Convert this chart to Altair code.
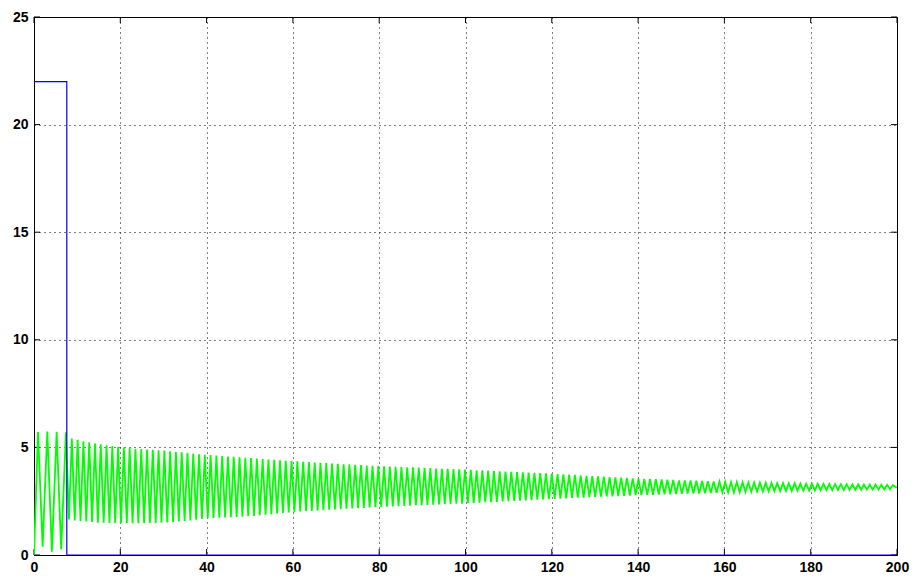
import altair as alt
import pandas as pd

# ---- data ----
x_ticks = [0, 20, 40, 60, 80, 100, 120, 140, 160, 180, 200]
y_ticks = [0, 5, 10, 15, 20, 25]

blue_t = [0.0, 7.6, 7.6, 200.0]
blue_v = [22.0, 22.0, 0.0, 0.0]

green_t = [
    0.0, 0.93, 2.0, 3.08, 4.15, 5.25, 6.3, 7.4,
    8.10, 8.77, 9.44, 10.11, 10.78, 11.45, 12.12, 12.79, 13.46, 14.13,
    14.80, 15.47, 16.14, 16.81, 17.48, 18.15, 18.82, 19.49, 20.16, 20.83,
    21.50, 22.17, 22.84, 23.51, 24.18, 24.85, 25.52, 26.19, 26.86, 27.53,
    28.20, 28.87, 29.54, 30.21, 30.88, 31.55, 32.22, 32.89, 33.56, 34.23,
    34.90, 35.57, 36.24, 36.91, 37.58, 38.25, 38.92, 39.59, 40.26, 40.93,
    41.60, 42.27, 42.94, 43.61, 44.28, 44.95, 45.62, 46.29, 46.96, 47.63,
    48.30, 48.97, 49.64, 50.31, 50.98, 51.65, 52.32, 52.99, 53.66, 54.33,
    55.00, 55.67, 56.34, 57.01, 57.68, 58.35, 59.02, 59.69, 60.36, 61.03,
    61.70, 62.37, 63.04, 63.71, 64.38, 65.05, 65.72, 66.39, 67.06, 67.73,
    68.40, 69.07, 69.74, 70.41, 71.08, 71.75, 72.42, 73.09, 73.76, 74.43,
    75.10, 75.77, 76.44, 77.11, 77.78, 78.45, 79.12, 79.79, 80.46, 81.13,
    81.80, 82.47, 83.14, 83.81, 84.48, 85.15, 85.82, 86.49, 87.16, 87.83,
    88.50, 89.17, 89.84, 90.51, 91.18, 91.85, 92.52, 93.19, 93.86, 94.53,
    95.20, 95.87, 96.54, 97.21, 97.88, 98.55, 99.22, 99.89, 100.56, 101.23,
    101.90, 102.57, 103.24, 103.91, 104.58, 105.25, 105.92, 106.59, 107.26, 107.93,
    108.60, 109.27, 109.94, 110.61, 111.28, 111.95, 112.62, 113.29, 113.96, 114.63,
    115.30, 115.97, 116.64, 117.31, 117.98, 118.65, 119.32, 119.99, 120.66, 121.33,
    122.00, 122.67, 123.34, 124.01, 124.68, 125.35, 126.02, 126.69, 127.36, 128.03,
    128.70, 129.37, 130.04, 130.71, 131.38, 132.05, 132.72, 133.39, 134.06, 134.73,
    135.40, 136.07, 136.74, 137.41, 138.08, 138.75, 139.42, 140.09, 140.76, 141.43,
    142.10, 142.77, 143.44, 144.11, 144.78, 145.45, 146.12, 146.79, 147.46, 148.13,
    148.80, 149.47, 150.14, 150.81, 151.48, 152.15, 152.82, 153.49, 154.16, 154.83,
    155.50, 156.17, 156.84, 157.51, 158.18, 158.85, 159.52, 160.19, 160.86, 161.53,
    162.20, 162.87, 163.54, 164.21, 164.88, 165.55, 166.22, 166.89, 167.56, 168.23,
    168.90, 169.57, 170.24, 170.91, 171.58, 172.25, 172.92, 173.59, 174.26, 174.93,
    175.60, 176.27, 176.94, 177.61, 178.28, 178.95, 179.62, 180.29, 180.96, 181.63,
    182.30, 182.97, 183.64, 184.31, 184.98, 185.65, 186.32, 186.99, 187.66, 188.33,
    189.00, 189.67, 190.34, 191.01, 191.68, 192.35, 193.02, 193.69, 194.36, 195.03,
    195.70, 196.37, 197.04, 197.71, 198.38, 199.05, 200.00,
]
green_v = [
    0.0, 5.72, 0.39, 5.74, 0.15, 5.72, 0.26, 5.70,
    1.65, 5.41, 1.61, 5.35, 1.58, 5.29, 1.56, 5.24, 1.53, 5.18,
    1.50, 5.14, 1.50, 5.10, 1.49, 5.06, 1.49, 5.02, 1.48, 4.99,
    1.48, 4.97, 1.48, 4.94, 1.48, 4.92, 1.48, 4.90, 1.49, 4.89,
    1.49, 4.87, 1.50, 4.85, 1.51, 4.82, 1.54, 4.79, 1.56, 4.77,
    1.58, 4.74, 1.61, 4.71, 1.64, 4.68, 1.67, 4.66, 1.70, 4.64,
    1.72, 4.62, 1.73, 4.60, 1.74, 4.58, 1.76, 4.56, 1.77, 4.54,
    1.78, 4.52, 1.80, 4.50, 1.82, 4.48, 1.85, 4.46, 1.87, 4.44,
    1.90, 4.42, 1.93, 4.40, 1.95, 4.38, 1.98, 4.36, 2.00, 4.35,
    2.02, 4.33, 2.04, 4.32, 2.05, 4.30, 2.07, 4.28, 2.08, 4.27,
    2.10, 4.25, 2.12, 4.24, 2.13, 4.22, 2.15, 4.21, 2.16, 4.19,
    2.18, 4.18, 2.19, 4.16, 2.21, 4.15, 2.22, 4.13, 2.23, 4.12,
    2.25, 4.11, 2.26, 4.10, 2.27, 4.09, 2.28, 4.08, 2.29, 4.07,
    2.31, 4.06, 2.32, 4.05, 2.33, 4.04, 2.34, 4.02, 2.35, 4.01,
    2.36, 4.00, 2.37, 3.99, 2.38, 3.98, 2.39, 3.97, 2.41, 3.96,
    2.42, 3.94, 2.43, 3.93, 2.45, 3.92, 2.46, 3.90, 2.47, 3.89,
    2.49, 3.88, 2.50, 3.86, 2.51, 3.85, 2.53, 3.84, 2.54, 3.83,
    2.55, 3.82, 2.57, 3.81, 2.58, 3.79, 2.59, 3.78, 2.61, 3.76,
    2.62, 3.75, 2.63, 3.73, 2.65, 3.72, 2.66, 3.70, 2.67, 3.68,
    2.69, 3.67, 2.70, 3.65, 2.71, 3.64, 2.72, 3.62, 2.73, 3.61,
    2.74, 3.60, 2.75, 3.58, 2.76, 3.56, 2.78, 3.55, 2.78, 3.54,
    2.79, 3.53, 2.80, 3.52, 2.81, 3.51, 2.82, 3.50, 2.82, 3.49,
    2.83, 3.47, 2.84, 3.46, 2.85, 3.46, 2.86, 3.45, 2.86, 3.44,
    2.87, 3.43, 2.88, 3.42, 2.89, 3.41, 2.90, 3.40, 2.91, 3.39,
    2.91, 3.39, 2.92, 3.38, 2.93, 3.38, 2.94, 3.37, 2.95, 3.36,
    2.95, 3.35, 2.96, 3.35, 2.97, 3.34, 2.97, 3.34, 2.98, 3.33,
    2.98, 3.33, 2.99, 3.32, 2.99, 3.31, 3.00, 3.31, 3.00, 3.31,
    3.01, 3.30, 3.01, 3.30, 3.01, 3.29, 3.02, 3.29, 3.02, 3.29,
    3.03, 3.28, 3.03, 3.28, 3.03, 3.27, 3.04, 3.27, 3.04, 3.27,
    3.04, 3.26, 3.04, 3.26, 3.05, 3.25, 3.12,
]

# ---- chart ----
W, H = 863, 538
TICK = 6
FONT = "Liberation Sans"

xs = alt.Scale(domain=[0, 200], nice=False, zero=False)
ys = alt.Scale(domain=[0, 25], nice=False, zero=False)

n = min(len(green_t), len(green_v))
green_df = pd.DataFrame({"t": green_t[:n], "v": green_v[:n]})
blue_df = pd.DataFrame({"t": blue_t, "v": blue_v, "i": list(range(len(blue_t)))})
xt_df = pd.DataFrame({"t": x_ticks})
yt_df = pd.DataFrame({"v": y_ticks})

grid_common = dict(
    grid=True, gridDash=[1, 4], gridColor="black", gridOpacity=1, gridWidth=1,
    domain=False, ticks=False, title=None,
    labelFont=FONT, labelFontSize=14, labelFontWeight="bold", labelColor="black",
    labelFlush=False, labelOverlap=False,
)
x_axis = alt.Axis(values=x_ticks, labelPadding=5, **grid_common)
y_axis = alt.Axis(values=y_ticks, labelPadding=6, **grid_common)

green = alt.Chart(green_df).mark_line(color="#00ff00", strokeWidth=1.8, clip=True).encode(
    x=alt.X("t:Q", scale=xs, axis=x_axis),
    y=alt.Y("v:Q", scale=ys, axis=y_axis),
)

blue = alt.Chart(blue_df).mark_line(color="#0000ff", strokeWidth=1.2, clip=True).encode(
    x=alt.X("t:Q", scale=xs),
    y=alt.Y("v:Q", scale=ys),
    order=alt.Order("i:Q"),
)

tick_style = dict(color="black", strokeWidth=1)
bottom_ticks = alt.Chart(xt_df).mark_rule(**tick_style).encode(
    x=alt.X("t:Q", scale=xs), y=alt.value(H), y2=alt.value(H - TICK))
top_ticks = alt.Chart(xt_df).mark_rule(**tick_style).encode(
    x=alt.X("t:Q", scale=xs), y=alt.value(0), y2=alt.value(TICK))
left_ticks = alt.Chart(yt_df).mark_rule(**tick_style).encode(
    y=alt.Y("v:Q", scale=ys), x=alt.value(0), x2=alt.value(TICK))
right_ticks = alt.Chart(yt_df).mark_rule(**tick_style).encode(
    y=alt.Y("v:Q", scale=ys), x=alt.value(W), x2=alt.value(W - TICK))

chart = alt.layer(
    bottom_ticks, top_ticks, left_ticks, right_ticks, green, blue
).properties(
    width=W, height=H,
    autosize=alt.AutoSizeParams(type="none"),
    padding={"left": 26, "top": 9, "right": 14, "bottom": 19},
    background="white",
).configure_view(
    stroke="black", strokeWidth=1,
)

chart.save("out.html", embed_options={"renderer": "svg", "actions": False})
